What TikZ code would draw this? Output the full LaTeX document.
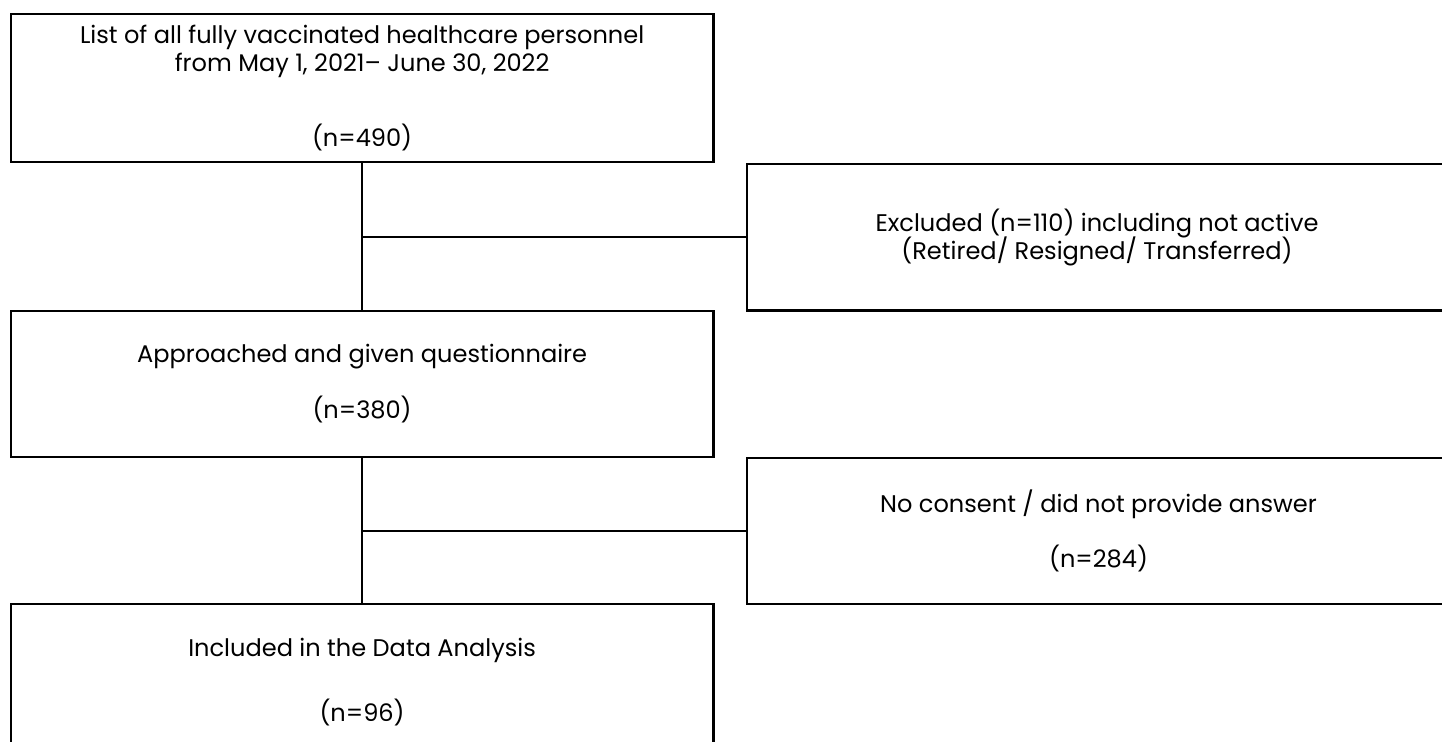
\documentclass[tikz,border=0pt]{standalone}
\usepackage{fontspec}
\setmainfont{Poppins}
\usetikzlibrary{positioning}

\newcommand{\flowfont}{\fontsize{13.7}{16}\selectfont\lineskiplimit=-20pt\relax}

\tikzset{
  flowbox/.style={draw, line width=1.3pt, align=center, inner sep=0pt, font=\flowfont},
  flowline/.style={line width=1.3pt}
}

\begin{document}
\begin{tikzpicture}[x=0.02cm, y=-0.02cm]
    % Canvas
    \useasboundingbox (0,0) rectangle (1442,742);
    \fill[white] (0,0) rectangle (1442,742);

    % Main column
    \node[flowbox, minimum width=14.056cm, minimum height=2.96cm] (listall) at (362.1,88)
      {List of all fully vaccinated healthcare personnel\\from May 1, 2021– June 30, 2022\\[0.92cm](n=490)};
    \node[flowbox, minimum width=14.056cm, minimum height=2.926cm] (approached) at (362.1,384)
      {Approached and given questionnaire\\[0.56cm](n=380)};
    \node[flowbox, minimum width=14.056cm, minimum height=3.12cm] (included) at (362.1,682)
      {Included in the Data Analysis\\[0.74cm](n=96)};

    % Side boxes
    \node[flowbox, minimum width=14cm, minimum height=2.934cm] (excluded) at (1097,237.3)
      {Excluded (n=110) including not active\\(Retired/ Resigned/ Transferred)};
    \node[flowbox, minimum width=14.06cm, minimum height=2.92cm] (noconsent) at (1098.5,531)
      {No consent / did not provide answer\\[0.54cm](n=284)};

    % Connectors
    \draw[flowline] (listall) -- (approached);
    \draw[flowline] (approached) -- (included);
    \draw[flowline] (excluded.west) -- (excluded.west -| listall.south);
    \draw[flowline] (noconsent.west) -- (noconsent.west -| approached.south);
\end{tikzpicture}
\end{document}
